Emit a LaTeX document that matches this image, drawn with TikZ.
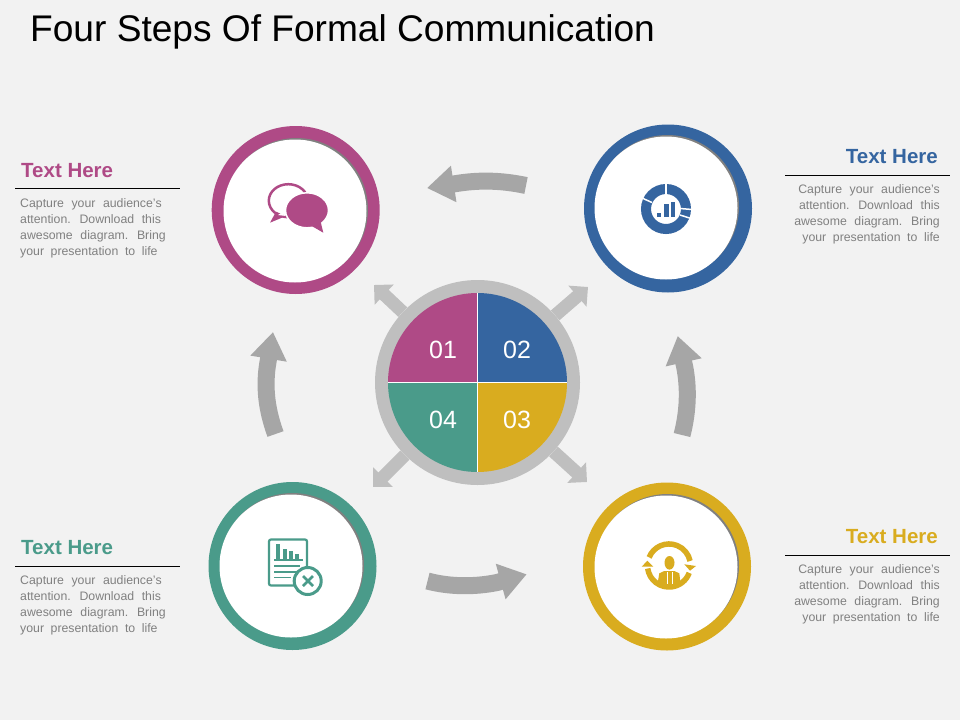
\documentclass[tikz,border=0pt]{standalone}
\usepackage{fontspec}
\setmainfont{Liberation Sans}
\usetikzlibrary{arrows.meta}
\definecolor{pagegray}{HTML}{F2F2F2}
\definecolor{hubgray}{HTML}{BFBFBF}
\definecolor{sweepgray}{HTML}{A6A6A6}
\definecolor{shadegray}{HTML}{808080}
\definecolor{blurbgray}{HTML}{808080}
\definecolor{stepone}{HTML}{AF4A86}
\definecolor{steptwo}{HTML}{3565A0}
\definecolor{stepthree}{HTML}{D9AC1F}
\definecolor{stepfour}{HTML}{4A9B8A}
\newcommand{\blurbfont}{\fontsize{12.3}{16}\selectfont\spaceskip 7.6pt\relax}
\newcommand{\tightgaps}{\spaceskip 6.6pt\relax}
\tikzset{
	ring/.style={circle, inner sep=0pt, minimum size=168pt, fill=#1},
	shade/.style={circle, inner sep=0pt, minimum size=143pt, fill=shadegray},
	face/.style={circle, inner sep=0pt, minimum size=143pt, fill=white},
	spoke/.style={draw=hubgray, line width=13pt, -{Triangle[length=14pt, width=27pt]}},
	sweep/.style={draw=sweepgray, line width=17pt, -{Triangle[length=27pt, width=35pt]}},
	pielabel/.style={text=white, font=\fontsize{25}{25}\selectfont},
	headleft/.style={anchor=base west, inner sep=0pt, font=\fontsize{20.5}{20}\selectfont\bfseries},
	headright/.style={anchor=base east, inner sep=0pt, font=\fontsize{20.5}{20}\selectfont\bfseries},
	blurbleft/.style={anchor=north west, inner sep=0pt, align=left, text=blurbgray, font=\blurbfont},
	blurbright/.style={anchor=north east, inner sep=0pt, align=right, text=blurbgray, font=\blurbfont},
}
\begin{document}
\begin{tikzpicture}[x=1pt, y=-1pt]
	\useasboundingbox (0, 0) rectangle (960, 720);
	\fill[pagegray] (0, 0) rectangle (960, 720);
	% title
	\node[anchor=base west, inner sep=0pt, font=\fontsize{37.1}{37}\selectfont] (title) at (30, 41) {Four Steps Of Formal Communication};
	% the four step circles
	\node[ring=stepone] (onering) at (295.7, 210) {};
	\node[shade] (oneshade) at (296.5, 209.5) {};
	\node[face] (oneface) at (295, 211) {};
	\node[ring=steptwo] (tworing) at (668, 208.5) {};
	\node[shade] (twoshade) at (667.5, 206.5) {};
	\node[face] (twoface) at (666, 208) {};
	\node[ring=stepfour] (fourring) at (292.5, 566) {};
	\node[shade] (fourshade) at (292.5, 564.5) {};
	\node[face] (fourface) at (291, 566) {};
	\node[ring=stepthree] (threering) at (667, 566.5) {};
	\node[shade] (threeshade) at (667.5, 565.5) {};
	\node[face] (threeface) at (666, 567) {};
	% the hub and its arrows
	\node[circle, inner sep=0pt, minimum size=205pt, fill=hubgray] (hub) at (477.5, 382.5) {};
	\coordinate (tipnw) at (374, 285);
	\coordinate (tipne) at (588, 287);
	\coordinate (tipse) at (587, 482);
	\coordinate (tipsw) at (373, 487);
	\draw[spoke] (hub) -- (tipnw);
	\draw[spoke] (hub) -- (tipne);
	\draw[spoke] (hub) -- (tipse);
	\draw[spoke] (hub) -- (tipsw);
	\fill[stepone] (477.5, 382.5) -- (388, 382.5) arc[start angle=180, end angle=90, radius=89.5pt] -- cycle;
	\fill[steptwo] (477.5, 382.5) -- (477.5, 293) arc[start angle=90, end angle=0, radius=89.5pt] -- cycle;
	\fill[stepthree] (477.5, 382.5) -- (567, 382.5) arc[start angle=0, end angle=-90, radius=89.5pt] -- cycle;
	\fill[stepfour] (477.5, 382.5) -- (477.5, 472) arc[start angle=270, end angle=180, radius=89.5pt] -- cycle;
	\draw[white, line width=1pt] (477.5, 293) -- (477.5, 472);
	\draw[white, line width=1pt] (388, 382.5) -- (567, 382.5);
	\node[pielabel] (labone) at (443, 350) {01};
	\node[pielabel] (labtwo) at (517, 350) {02};
	\node[pielabel] (labfour) at (443, 420) {04};
	\node[pielabel] (labthree) at (517, 420) {03};
	% the curved arrows between the steps
	\coordinate (topstart) at (526, 185.5);
	\coordinate (topbend) at (456, 183.6);
	\coordinate (topend) at (427, 188);
	\draw[sweep] (topstart) .. controls (500, 180) and (478, 180) .. (topbend) -- (topend);
	\coordinate (leftstart) at (275.5, 434);
	\coordinate (leftbend) at (268, 362);
	\coordinate (leftend) at (273, 332);
	\draw[sweep] (leftstart) .. controls (266, 408) and (264, 385) .. (leftbend) -- (leftend);
	\coordinate (rightstart) at (682, 435);
	\coordinate (rightbend) at (684.5, 366);
	\coordinate (rightend) at (677.7, 336);
	\draw[sweep] (rightstart) .. controls (688, 412) and (689, 388) .. (rightbend) -- (rightend);
	\coordinate (botstart) at (427.5, 581);
	\coordinate (botbend) at (497, 582.5);
	\coordinate (botend) at (526.7, 574.3);
	\draw[sweep] (botstart) .. controls (450, 587) and (475, 587) .. (botbend) -- (botend);
	% speech bubbles
	\draw[stepone, line width=2.5pt] (288.3, 200.7) ellipse[x radius=19.5pt, y radius=16.5pt];
	\fill[stepone] (270, 222.7) -- (276, 211.7) -- (286, 216) -- cycle;
	\fill[white] (281, 213) -- (286, 216) -- (278, 215) -- cycle;
	\filldraw[fill=stepone, draw=white, line width=1.5pt] (307, 210.3) ellipse[x radius=21.5pt, y radius=17.5pt];
	\fill[stepone] (323.3, 232.7) -- (311.7, 226) -- (320.7, 222) -- cycle;
	% donut chart
	\draw[steptwo, line width=10pt] (666, 209) circle[radius=20pt];
	\draw[white, line width=1.5pt] (666, 183) -- (666, 195);
	\draw[white, line width=1.5pt] (642, 198) -- (652, 202.5);
	\draw[white, line width=1.5pt] (680, 208.5) -- (692, 209.5);
	\draw[white, line width=1.5pt] (680, 215) -- (691, 218.5);
	\fill[steptwo] (657.3, 212.7) rectangle (660.7, 217.3);
	\fill[steptwo] (664, 204) rectangle (668.7, 217.3);
	\fill[steptwo] (671, 201.7) rectangle (675, 217.3);
	% report with a cross
	\draw[stepfour, line width=2.2pt, rounded corners=2pt] (269, 539.5) rectangle (307, 585.5);
	\fill[stepfour] (276, 543.5) rectangle (280, 558.5);
	\fill[stepfour] (282.7, 548.5) rectangle (286.7, 558.5);
	\fill[stepfour] (288.7, 550.5) rectangle (292.7, 558.5);
	\fill[stepfour] (295, 554) rectangle (299, 558.5);
	\draw[stepfour, line width=2pt] (274, 560) -- (303, 560);
	\draw[stepfour, line width=1.5pt] (274, 566) -- (300, 566);
	\draw[stepfour, line width=1.5pt] (274, 572) -- (300, 572);
	\draw[stepfour, line width=1.5pt] (274, 577.5) -- (291, 577.5);
	\filldraw[fill=white, draw=stepfour, line width=3pt] (307.7, 581) circle[radius=13.5pt];
	\draw[stepfour, line width=2.5pt] (303, 576) -- (313, 586);
	\draw[stepfour, line width=2.5pt] (303, 586) -- (313, 576);
	% person inside two arrows
	\draw[stepthree, line width=5.5pt] (649.1, 557.4) arc[start angle=158, end angle=12, radius=21.5pt];
	\fill[stepthree] (641.7, 566.7) -- (653.3, 566.7) -- (647.3, 560.7) -- cycle;
	\fill[stepthree] (684.3, 564.3) -- (696, 566) -- (690, 570.7) -- cycle;
	\draw[stepthree, line width=5.5pt] (647.7, 568.5) arc[start angle=188, end angle=340, radius=21.5pt];
	\fill[stepthree] (669.5, 562.8) ellipse[x radius=5pt, y radius=6.8pt];
	\fill[stepthree] (659.3, 573.3) -- (664.3, 571) -- (674.3, 571) -- (679.3, 573.3) -- (680.7, 585) -- (657.3, 585) -- cycle;
	\draw[white, line width=0.8pt] (667, 572) -- (667, 584);
	\draw[white, line width=0.8pt] (672, 572) -- (672, 584);
	% text of step one
	\node[headleft, text=stepone] (headone) at (21, 177) {Text Here};
	\coordinate (ruleonea) at (15, 188);
	\coordinate (ruleoneb) at (180, 188);
	\draw[line width=1pt] (ruleonea) -- (ruleoneb);
	\node[blurbleft] (blurbone) at (20, 198) {Capture your audience's\\attention. Download this\\awesome diagram. Bring\\\tightgaps your presentation to life};
	% text of step two
	\node[headright, text=steptwo] (headtwo) at (938, 163) {Text Here};
	\coordinate (ruletwoa) at (785, 175);
	\coordinate (ruletwob) at (950, 175);
	\draw[line width=1pt] (ruletwoa) -- (ruletwob);
	\node[blurbright] (blurbtwo) at (940, 184) {Capture your audience's\\attention. Download this\\awesome diagram. Bring\\\tightgaps your presentation to life};
	% text of step three
	\node[headright, text=stepthree] (headthree) at (938, 543) {Text Here};
	\coordinate (rulethreea) at (785, 555);
	\coordinate (rulethreeb) at (950, 555);
	\draw[line width=1pt] (rulethreea) -- (rulethreeb);
	\node[blurbright] (blurbthree) at (940, 564) {Capture your audience's\\attention. Download this\\awesome diagram. Bring\\\tightgaps your presentation to life};
	% text of step four
	\node[headleft, text=stepfour] (headfour) at (21, 554) {Text Here};
	\coordinate (rulefoura) at (15, 566);
	\coordinate (rulefourb) at (180, 566);
	\draw[line width=1pt] (rulefoura) -- (rulefourb);
	\node[blurbleft] (blurbfour) at (20, 575) {Capture your audience's\\attention. Download this\\awesome diagram. Bring\\\tightgaps your presentation to life};
\end{tikzpicture}
\end{document}
